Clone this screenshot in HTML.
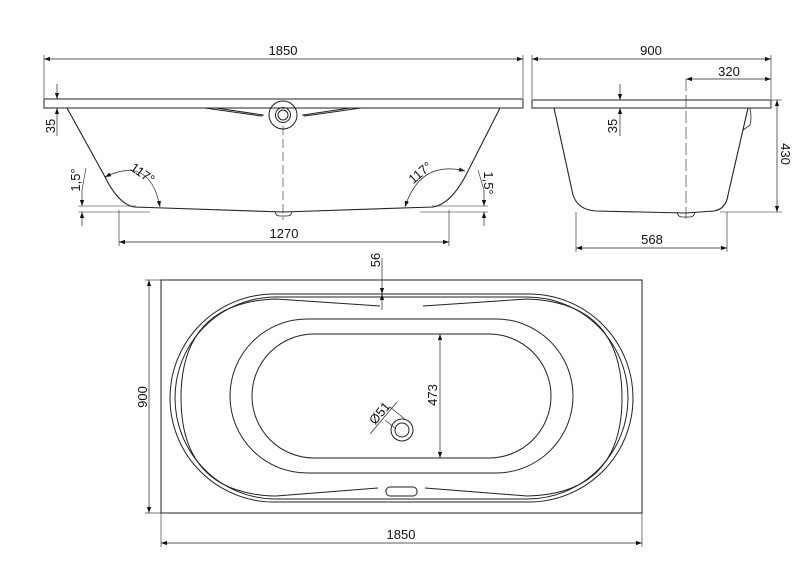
<!DOCTYPE html>
<html><head><meta charset="utf-8"><style>
html,body{margin:0;padding:0;background:#fff;}
svg{display:block;}
text{font-family:"Liberation Sans",Arial,sans-serif;font-size:13px;fill:#111;}
</style></head><body>
<svg width="800" height="565" viewBox="0 0 800 565" xmlns="http://www.w3.org/2000/svg">
<defs>
<marker id="a" viewBox="0 0 10 10" refX="10" refY="5" markerWidth="9" markerHeight="6" orient="auto-start-reverse" markerUnits="userSpaceOnUse"><path d="M0,1.5 L10,5 L0,8.5z" fill="#111"/></marker>
</defs>
<g fill="none" stroke="#222" stroke-width="1">
<line x1="44" y1="55" x2="44" y2="98" stroke-width="0.6"/>
<line x1="523" y1="55" x2="523" y2="98" stroke-width="0.6"/>
<line x1="44" y1="59" x2="523" y2="59" stroke-width="0.7" marker-start="url(#a)" marker-end="url(#a)"/>
<rect x="44" y="99" width="479" height="9"/>
<path d="M67,108 L104,175 Q118,204 134,207 L283,212 L433,207 Q451,204 466,175 L500,108" stroke-width="1.1"/>
<path d="M275,212 Q276,216 280,216 L287,216 Q291,216 292,212" stroke-width="0.8"/>
<line x1="283" y1="126" x2="283" y2="220" stroke-width="0.6" stroke-dasharray="9,4"/>
<circle cx="283" cy="115" r="14"/><circle cx="283" cy="115" r="7.5"/><circle cx="283" cy="115" r="5"/>
<path d="M205,108 L261,116 L263,115 L216,108"/>
<path d="M361,108 L305,116 L303,115 L350,108"/>
<line x1="57" y1="84" x2="57" y2="99" stroke-width="0.7" marker-end="url(#a)"/>
<line x1="57" y1="136" x2="57" y2="108" stroke-width="0.7" marker-end="url(#a)"/>
<path d="M105,177 Q150,155 160,207" stroke-width="0.7" marker-start="url(#a)" marker-end="url(#a)"/>
<path d="M465,171 Q420,160 405,207" stroke-width="0.7" marker-start="url(#a)" marker-end="url(#a)"/>
<line x1="78" y1="206" x2="136" y2="206" stroke-width="0.6"/>
<line x1="78" y1="212" x2="150" y2="212" stroke-width="0.6"/>
<line x1="82" y1="190" x2="82" y2="206" stroke-width="0.7" marker-end="url(#a)"/>
<line x1="82" y1="226" x2="82" y2="212" stroke-width="0.7" marker-end="url(#a)"/>
<line x1="86" y1="168" x2="82" y2="190" stroke-width="0.6"/>
<line x1="432" y1="206" x2="488" y2="206" stroke-width="0.6"/>
<line x1="420" y1="212" x2="488" y2="212" stroke-width="0.6"/>
<line x1="484" y1="190" x2="484" y2="206" stroke-width="0.7" marker-end="url(#a)"/>
<line x1="484" y1="226" x2="484" y2="212" stroke-width="0.7" marker-end="url(#a)"/>
<line x1="478" y1="170" x2="484" y2="190" stroke-width="0.6"/>
<line x1="119" y1="210" x2="119" y2="246" stroke-width="0.6"/>
<line x1="449" y1="210" x2="449" y2="246" stroke-width="0.6"/>
<line x1="119" y1="242" x2="449" y2="242" stroke-width="0.7" marker-start="url(#a)" marker-end="url(#a)"/>

<line x1="532" y1="55" x2="532" y2="99" stroke-width="0.6"/>
<line x1="771" y1="55" x2="771" y2="99" stroke-width="0.6"/>
<line x1="532" y1="59" x2="771" y2="59" stroke-width="0.7" marker-start="url(#a)" marker-end="url(#a)"/>
<rect x="532" y="100" width="239" height="8"/>
<path d="M554,108 L573,195 Q578,210 596,211 L686,213 L714,211 Q726,209 728,195 L748,108" stroke-width="1.1"/>
<path d="M745,108 L750,108 Q752,118 750,125 L743,130" stroke-width="0.8"/>
<path d="M677,212 Q678,217 682,217 L690,217 Q694,217 695,212" stroke-width="0.8"/>
<line x1="686" y1="79" x2="686" y2="222" stroke-width="0.6" stroke-dasharray="12,4"/>
<line x1="686" y1="79" x2="771" y2="79" stroke-width="0.7" marker-start="url(#a)" marker-end="url(#a)"/>
<line x1="620" y1="84" x2="620" y2="100" stroke-width="0.7" marker-end="url(#a)"/>
<line x1="620" y1="136" x2="620" y2="108" stroke-width="0.7" marker-end="url(#a)"/>
<line x1="771" y1="100" x2="782" y2="100" stroke-width="0.6"/>
<line x1="720" y1="212" x2="782" y2="212" stroke-width="0.6"/>
<line x1="777" y1="100" x2="777" y2="212" stroke-width="0.7" marker-start="url(#a)" marker-end="url(#a)"/>
<line x1="576" y1="212" x2="576" y2="252" stroke-width="0.6"/>
<line x1="727" y1="212" x2="727" y2="252" stroke-width="0.6"/>
<line x1="576" y1="248" x2="727" y2="248" stroke-width="0.7" marker-start="url(#a)" marker-end="url(#a)"/>

<rect x="161" y="280" width="481" height="233"/>
<line x1="145" y1="280" x2="161" y2="280" stroke-width="0.6"/>
<line x1="145" y1="513" x2="161" y2="513" stroke-width="0.6"/>
<line x1="149" y1="280" x2="149" y2="513" stroke-width="0.7" marker-start="url(#a)" marker-end="url(#a)"/>
<line x1="161" y1="513" x2="161" y2="547" stroke-width="0.6"/>
<line x1="642" y1="513" x2="642" y2="547" stroke-width="0.6"/>
<line x1="161" y1="543" x2="642" y2="543" stroke-width="0.7" marker-start="url(#a)" marker-end="url(#a)"/>
<rect x="170" y="294" width="463" height="208" rx="104" ry="104"/>
<rect x="175" y="297" width="453" height="202" rx="101" ry="101"/>
<path d="M380,306 L276,299 Q181,302 181,398 Q181,494 276,496 L378,488"/>
<path d="M423,306 L527,299 Q622,302 622,398 Q622,494 527,496 L425,488"/>
<rect x="386" y="487" width="31" height="9" rx="4"/>
<rect x="230" y="319" width="343" height="154" rx="77" ry="77"/>
<rect x="252" y="334" width="299" height="124" rx="62" ry="62"/>
<circle cx="402" cy="430" r="11"/><circle cx="402" cy="430" r="7"/>
<line x1="440" y1="334" x2="440" y2="458" stroke-width="0.7" marker-start="url(#a)" marker-end="url(#a)"/>
<line x1="382" y1="258" x2="382" y2="294" stroke-width="0.7" marker-end="url(#a)"/>
<line x1="382" y1="310" x2="382" y2="294" stroke-width="0.7" marker-end="url(#a)"/>
<line x1="370" y1="434" x2="397" y2="402" stroke-width="0.7"/>
<line x1="385" y1="420" x2="396" y2="429" stroke-width="0.6"/>
<line x1="390" y1="407" x2="406" y2="420" stroke-width="0.6"/>
</g>
<g>
<text x="283" y="55" text-anchor="middle">1850</text>
<text x="651" y="55" text-anchor="middle">900</text>
<text x="729" y="76" text-anchor="middle">320</text>
<text x="284" y="238" text-anchor="middle">1270</text>
<text x="652" y="244" text-anchor="middle">568</text>
<text x="401" y="539" text-anchor="middle">1850</text>
<text transform="translate(55,126) rotate(-90)" text-anchor="middle">35</text>
<text transform="translate(617,126) rotate(-90)" text-anchor="middle">35</text>
<text transform="translate(781,154) rotate(90)" text-anchor="middle">430</text>
<text transform="translate(147,397) rotate(-90)" text-anchor="middle">900</text>
<text transform="translate(437,395) rotate(-90)" text-anchor="middle">473</text>
<text transform="translate(380,260) rotate(-90)" text-anchor="middle">56</text>
<text transform="translate(383,416) rotate(-50)" text-anchor="middle">Ø51</text>
<text transform="translate(140,177) rotate(35)" text-anchor="middle">117°</text>
<text transform="translate(423,176) rotate(-40)" text-anchor="middle">117°</text>
<text transform="translate(80,180) rotate(-90)" text-anchor="middle">1,5°</text>
<text transform="translate(484,183) rotate(90)" text-anchor="middle">1,5°</text>
</g>
</svg>
</body></html>
